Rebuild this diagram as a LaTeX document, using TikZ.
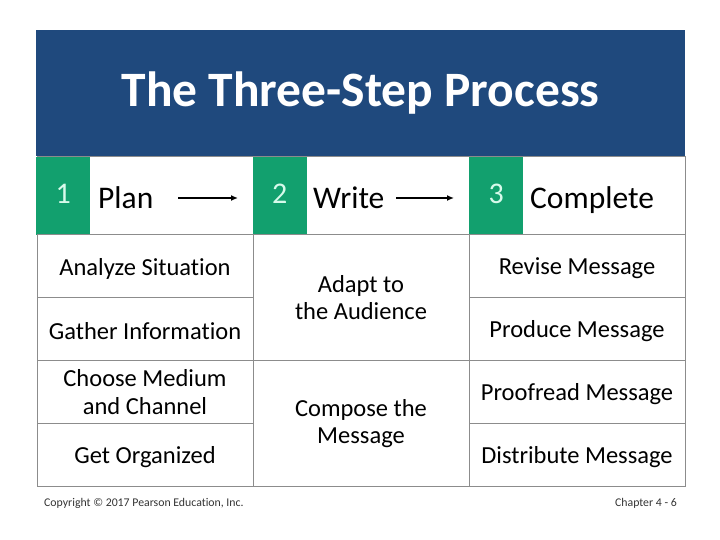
\documentclass[tikz,border=0pt]{standalone}
\usepackage{fontspec}
\setmainfont{Carlito}[Ligatures=NoCommon]
\usetikzlibrary{arrows.meta}
\definecolor{hdrblue}{RGB}{31,73,125}
\definecolor{stepgreen}{RGB}{18,160,110}
\definecolor{digitcol}{RGB}{215,250,235}
\definecolor{gridgray}{RGB}{140,140,140}
\newcommand{\dn}[1]{\raisebox{0pt}[\dimexpr\height+5pt\relax][\depth]{#1}}
\begin{document}
\begin{tikzpicture}[x=1pt,y=-1pt,
  cell/.style={draw=gridgray, line width=1pt, minimum width=216pt, minimum height=63pt, inner sep=0pt, align=center, anchor=north west, font=\fontsize{24.5}{27.5}\selectfont},
  tallcell/.style={cell, minimum height=126pt},
  headcell/.style={draw=gridgray, line width=1pt, minimum width=216pt, minimum height=78pt, inner sep=0pt, anchor=north west},
  greenbox/.style={fill=stepgreen, minimum width=54pt, minimum height=78pt, inner sep=0pt, anchor=north west, text=digitcol, font=\fontsize{30}{30}\selectfont},
  steplabel/.style={anchor=base west, inner sep=0pt, font=\fontsize{31.5}{31.5}\selectfont},
  flowarrow/.style={-{Latex[length=7pt,width=6pt]}, line width=1.3pt},
  foot/.style={inner sep=0pt, font=\fontsize{11.8}{11.8}\selectfont, text=black!80}
]
\useasboundingbox (0,0) rectangle (720,540);
% title
\node[fill=hdrblue, minimum width=649pt, minimum height=126pt, inner sep=0pt, anchor=north west,
  text=white, font=\bfseries\fontsize{49.5}{49.5}\selectfont] (title) at (36,30) {\raisebox{6pt}{The Three-Step Process}};
% header cells
\node[headcell] (h1) at (36.5,156) {};
\node[headcell] (h2) at (252.5,156) {};
\node[headcell] (h3) at (468.5,156) {};
\node[greenbox] (g1) at (36,156.5) {\raisebox{3pt}{1}};
\node[greenbox] (g2) at (252.5,156.5) {\raisebox{3pt}{2}};
\node[greenbox] (g3) at (469,156.5) {\raisebox{3pt}{3}};
\node[steplabel] (plan) at (98,208) {Plan};
\node[steplabel] (write) at (313,208) {Write};
\node[steplabel] (complete) at (530,208) {Complete};
\coordinate (a1s) at (178,198);
\coordinate (a1e) at (238,198);
\coordinate (a2s) at (396,198);
\coordinate (a2e) at (454,198);
\draw[flowarrow] (a1s) -- (a1e);
\draw[flowarrow] (a2s) -- (a2e);
% column 1
\node[cell] (c11) at (36.5,234) {\dn{Analyze Situation}};
\node[cell] (c12) at (36.5,297) {\dn{Gather Information}};
\node[cell] (c13) at (36.5,360) {Choose Medium\\and Channel};
\node[cell] (c14) at (36.5,423) {\dn{Get Organized}};
% column 2
\node[tallcell] (c21) at (252.5,234) {Adapt to\\the Audience};
\node[tallcell] (c22) at (252.5,360) {Compose the\\Message};
% column 3
\node[cell] (c31) at (468.5,234) {\dn{Revise Message}};
\node[cell] (c32) at (468.5,297) {\dn{Produce Message}};
\node[cell] (c33) at (468.5,360) {\dn{Proofread Message}};
\node[cell] (c34) at (468.5,423) {\dn{Distribute Message}};
% footer
\node[foot, anchor=west] (copy) at (44,503) {Copyright © 2017 Pearson Education, Inc.};
\node[foot, anchor=east] (chap) at (677,503) {Chapter 4 - 6};
\end{tikzpicture}
\end{document}
